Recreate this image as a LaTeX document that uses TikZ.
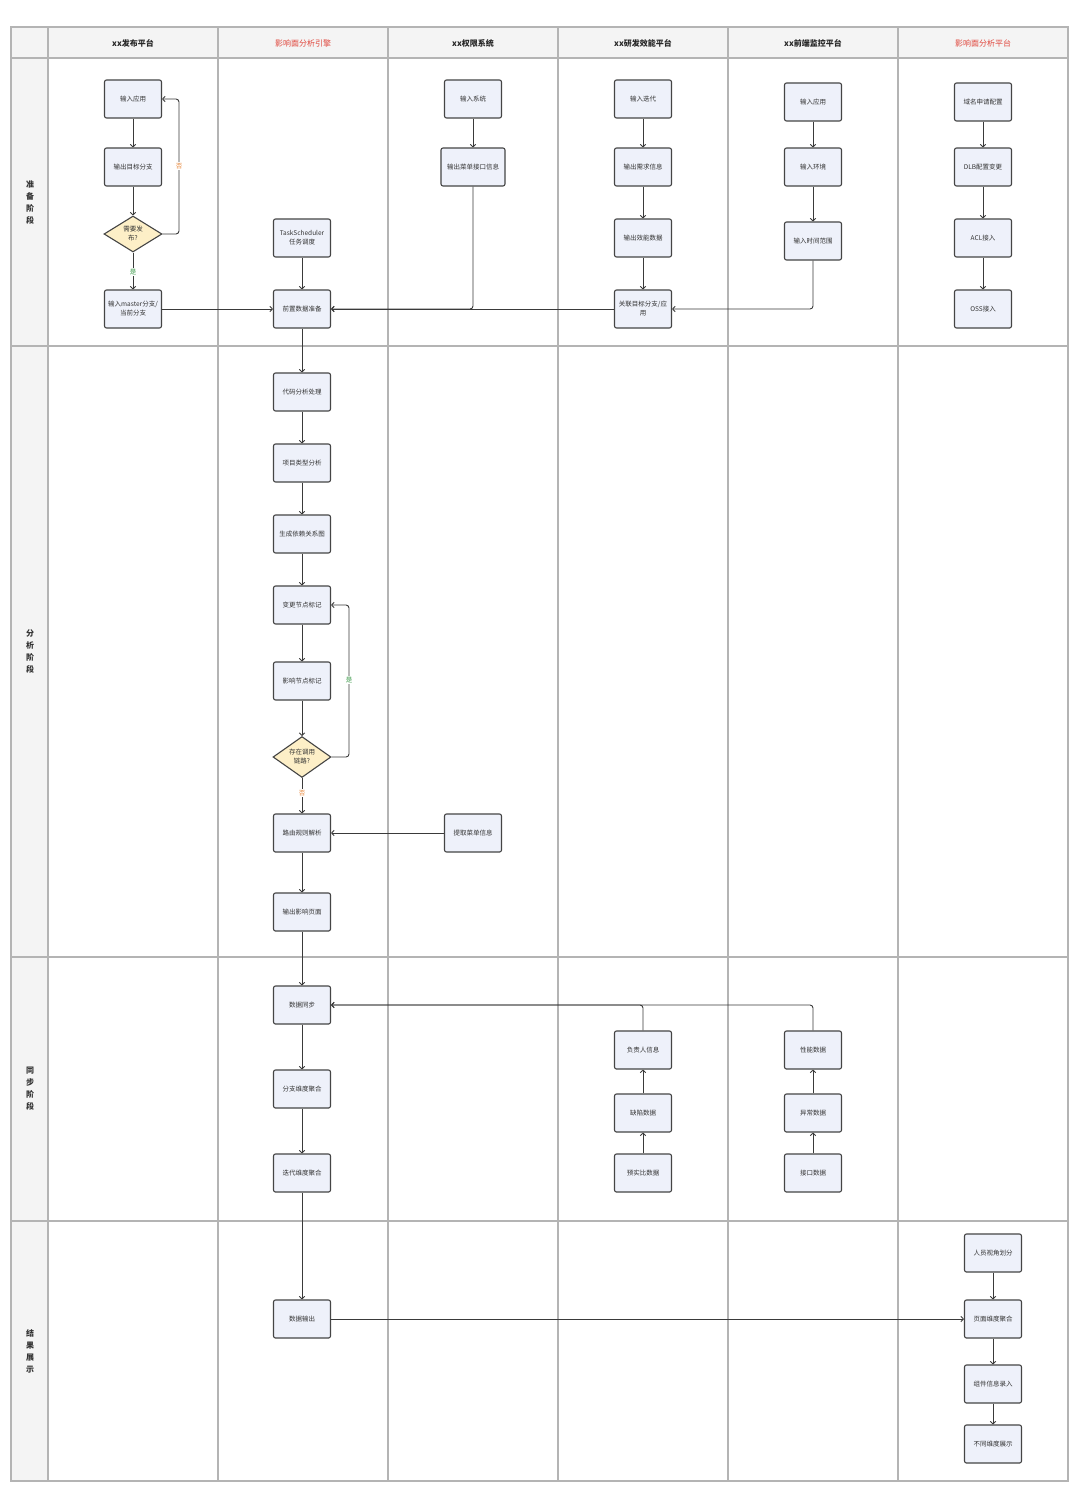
\documentclass[tikz,border=0pt]{standalone}
\usepackage{fontspec}
\setmainfont{Noto Sans CJK SC}
\usetikzlibrary{shapes.geometric,arrows.meta}
\definecolor{hdrfill}{HTML}{F4F4F4}
\definecolor{gridc}{HTML}{B4B4B4}
\definecolor{boxfill}{HTML}{EEF1FA}
\definecolor{boxline}{HTML}{454545}
\definecolor{decfill}{HTML}{FDEFC7}
\definecolor{redtxt}{HTML}{E0463C}
\definecolor{yesc}{HTML}{3C9A4A}
\definecolor{noc}{HTML}{E8873A}
\definecolor{linec}{HTML}{3A3A3A}
\tikzset{
  gridline/.style={draw=gridc,line width=1.2pt},
  hdr/.style={font=\fontsize{8}{9}\selectfont\bfseries,text=black!85},
  hdrred/.style={font=\fontsize{8}{9}\selectfont,text=redtxt},
  stage/.style={font=\fontsize{8}{12}\selectfont\bfseries,align=center,text=black!80},
  box/.style={draw=boxline,line width=1.1pt,fill=boxfill,rounded corners=2pt,
    minimum width=57pt,minimum height=38pt,inner sep=1pt,align=center,
    font=\fontsize{6.5}{9}\selectfont,text=black!80},
  widebox/.style={box,minimum width=64pt},
  dec/.style={draw=boxline,line width=1.1pt,fill=decfill,shape=diamond,
    minimum width=58pt,minimum height=36pt,inner sep=0pt,align=center,
    font=\fontsize{6.5}{9}\selectfont,text=black!80},
  conn/.style={draw=linec,line width=0.9pt,rounded corners=3pt,
    -{Straight Barb[length=2.5pt,width=5.5pt]}},
  yeslbl/.style={fill=white,inner sep=1pt,font=\fontsize{6.5}{8}\selectfont,text=yesc},
  nolbl/.style={fill=white,inner sep=1pt,font=\fontsize{6.5}{8}\selectfont,text=noc}
}
\begin{document}
\begin{tikzpicture}[x=1pt,y=-1pt]
\useasboundingbox (0,0) rectangle (1080,1493);
\fill[white] (0,0) rectangle (1080,1493);
% table background
\fill[hdrfill] (11,27) rectangle (1068,58);
\fill[hdrfill] (11,58) rectangle (48,1481);
\foreach \xx in {48,218,388,558,728,898}{\draw[gridline] (\xx,27) -- (\xx,1481);}
\foreach \yy in {58,346,957,1221}{\draw[gridline] (11,\yy) -- (1068,\yy);}
\draw[gridline] (11,27) rectangle (1068,1481);
% headers
\node[hdr] (h1) at (133,43) {xx发布平台};
\node[hdrred] (h2) at (303,43) {影响面分析引擎};
\node[hdr] (h3) at (473,43) {xx权限系统};
\node[hdr] (h4) at (643,43) {xx研发效能平台};
\node[hdr] (h5) at (813,43) {xx前端监控平台};
\node[hdrred] (h6) at (983,43) {影响面分析平台};
% stage labels
\node[stage] (s1) at (30,202) {准\\备\\阶\\段};
\node[stage] (s2) at (30,652) {分\\析\\阶\\段};
\node[stage] (s3) at (30,1089) {同\\步\\阶\\段};
\node[stage] (s4) at (30,1351) {结\\果\\展\\示};
% ---------------- preparation
\node[box] (a1) at (133,99) {输入应用};
\node[box] (a2) at (133,167) {输出目标分支};
\node[dec] (a3) at (133,234) {需要发\\布?};
\node[box] (a4) at (133,309) {输入master分支/\\当前分支};
\node[box] (b1) at (302,238) {TaskScheduler\\任务调度};
\node[box] (b2) at (302,309) {前置数据准备};
\node[box] (c1) at (473,99) {输入系统};
\node[widebox] (c2) at (473,167) {输出菜单接口信息};
\node[box] (d1) at (643,99) {输入迭代};
\node[box] (d2) at (643,167) {输出需求信息};
\node[box] (d3) at (643,238) {输出效能数据};
\node[box] (d4) at (643,309) {关联目标分支/应\\用};
\node[box] (e1) at (813,102) {输入应用};
\node[box] (e2) at (813,167) {输入环境};
\node[box] (e3) at (813,241) {输入时间范围};
\node[box] (f1) at (983,102) {域名申请配置};
\node[box] (f2) at (983,167) {DLB配置变更};
\node[box] (f3) at (983,238) {ACL接入};
\node[box] (f4) at (983,309) {OSS接入};
% ---------------- analysis
\node[box] (g1) at (302,392) {代码分析处理};
\node[box] (g2) at (302,463) {项目类型分析};
\node[box] (g3) at (302,534) {生成依赖关系图};
\node[box] (g4) at (302,605) {变更节点标记};
\node[box] (g5) at (302,681) {影响节点标记};
\node[dec] (g6) at (302,757) {存在调用\\链路?};
\node[box] (g7) at (302,833) {路由规则解析};
\node[box] (g8) at (302,912) {输出影响页面};
\node[box] (m1) at (473,833) {提取菜单信息};
% ---------------- sync
\node[box] (k1) at (302,1005) {数据同步};
\node[box] (k2) at (302,1089) {分支维度聚合};
\node[box] (k3) at (302,1173) {迭代维度聚合};
\node[box] (p1) at (643,1050) {负责人信息};
\node[box] (p2) at (643,1113) {缺陷数据};
\node[box] (p3) at (643,1173) {预实比数据};
\node[box] (q1) at (813,1050) {性能数据};
\node[box] (q2) at (813,1113) {异常数据};
\node[box] (q3) at (813,1173) {接口数据};
% ---------------- result
\node[box] (r1) at (302,1319) {数据输出};
\node[box] (t1) at (993,1253) {人员视角划分};
\node[box] (t2) at (993,1319) {页面维度聚合};
\node[box] (t3) at (993,1384) {组件信息录入};
\node[box] (t4) at (993,1444) {不同维度展示};
% ---------------- connectors: preparation
\draw[conn] (a1) -- (a2);
\draw[conn] (a2) -- (a3);
\draw[conn] (a3.east) -- (179,234) -- (179,99) -- (a1.east);
\node[nolbl] (lno1) at (179,166) {否};
\draw[conn] (a3.south) -- (a4.north);
\node[yeslbl] (lyes1) at (133,272) {是};
\draw[conn] (a4) -- (b2);
\draw[conn] (b1) -- (b2);
\draw[conn] (c1) -- (c2);
\draw[conn] (c2.south) |- (b2.east);
\draw[conn] (d4.west) -- (b2.east);
\draw[conn] (d1) -- (d2);
\draw[conn] (d2) -- (d3);
\draw[conn] (d3) -- (d4);
\draw[conn] (e1) -- (e2);
\draw[conn] (e2) -- (e3);
\draw[conn] (e3.south) |- (d4.east);
\draw[conn] (f1) -- (f2);
\draw[conn] (f2) -- (f3);
\draw[conn] (f3) -- (f4);
% analysis
\draw[conn] (b2) -- (g1);
\draw[conn] (g1) -- (g2);
\draw[conn] (g2) -- (g3);
\draw[conn] (g3) -- (g4);
\draw[conn] (g4) -- (g5);
\draw[conn] (g5) -- (g6);
\draw[conn] (g6.east) -- (349,757) -- (349,605) -- (g4.east);
\node[yeslbl] (lyes2) at (349,680) {是};
\draw[conn] (g6.south) -- (g7.north);
\node[nolbl] (lno2) at (302,793) {否};
\draw[conn] (m1) -- (g7);
\draw[conn] (g7) -- (g8);
\draw[conn] (g8) -- (k1);
% sync
\draw[conn] (k1) -- (k2);
\draw[conn] (k2) -- (k3);
\draw[conn] (p3) -- (p2);
\draw[conn] (p2) -- (p1);
\draw[conn] (q3) -- (q2);
\draw[conn] (q2) -- (q1);
\draw[conn] (p1.north) |- (k1.east);
\draw[conn] (q1.north) |- (k1.east);
% result
\draw[conn] (k3) -- (r1);
\draw[conn] (r1) -- (t2);
\draw[conn] (t1) -- (t2);
\draw[conn] (t2) -- (t3);
\draw[conn] (t3) -- (t4);
\end{tikzpicture}
\end{document}
